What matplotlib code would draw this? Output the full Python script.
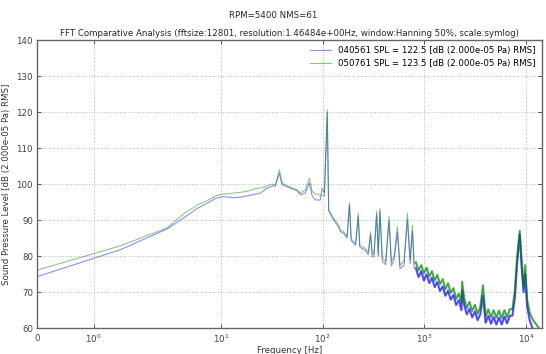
"""
Comparativa FFT de dos mediciones de nivel de presion sonora (RPM=5400).

Dibuja los espectros de las mediciones 040561 y 050761 sobre un eje de
frecuencia en escala symlog y guarda la figura en out.png.
"""

import numpy as np
import matplotlib
matplotlib.use("Agg")
import matplotlib.pyplot as plt
from matplotlib.ticker import NullLocator


# ---------------------------------------------------------------------------
# Datos
# ---------------------------------------------------------------------------

freq_hz = [
    0, 1.46, 2.93, 4.39, 5.86, 7.32, 8.79, 10.25, 11.5, 13.3, 15.5, 18.0,
    21.0, 24.4, 28.4, 31.8, 34.2, 37.5, 39.9, 44.6, 50.0, 55.9, 60.4, 67.6,
    74.1, 78.7, 84.6, 95.0, 98.6, 104.0, 111.0, 114.7,
    128.5, 144, 149.5, 161, 174, 183.6, 191, 211, 224, 232, 265, 281, 296.5,
    308, 320, 340, 353, 366, 387, 417, 450, 475, 505, 544, 577, 632, 683,
    726, 765, 795,
    827, 879, 934, 992, 1055, 1121, 1191, 1266, 1345, 1429, 1519, 1614,
    1715, 1823, 1937, 2058, 2187, 2325, 2360, 2470, 2625, 2790, 2965, 3150,
    3348, 3558, 3781, 4018, 4270, 4538, 4823, 5125, 5445, 5786, 6150, 6535,
    6945, 7380, 7800, 8200, 8700, 9170, 9500, 9840, 10300, 10950, 11800,
    13300, 14300,
]

spl_040561 = [
    74.3, 81.7, 87.5, 90.8, 93.3, 94.7, 96.0, 96.5, 96.4, 96.2, 96.4, 96.7,
    97.1, 97.5, 98.9, 99.4, 99.6, 103.0, 99.8, 99.3, 98.7, 98.2, 97.0, 97.5,
    100.3, 96.8, 95.6, 95.6, 98.9, 97.5, 119.8, 92.5,
    90.0, 88.0, 86.8, 86.3, 85.0, 94.2, 84.3, 83.0, 91.0, 82.5, 81.5, 80.4,
    85.8, 79.8, 80.0, 91.5, 80.0, 92.5, 78.5, 77.6, 89.8, 77.3, 79.0, 86.5,
    76.5, 77.5, 90.0, 77.8, 87.0, 76.8,
    76.6, 74.2, 75.8, 73.2, 74.9, 72.5, 74.0, 71.4, 72.8, 70.3, 71.6, 69.0,
    70.4, 67.9, 69.2, 66.4, 67.8, 65.0, 70.5, 66.5, 63.8, 65.4, 63.0, 64.6,
    62.2, 63.8, 69.0, 61.5, 63.4, 61.2, 63.1, 61.0, 63.0, 61.0, 63.2, 61.3,
    63.4, 63.5, 68.5, 78.0, 86.0, 75.5, 70.0, 75.0, 66.0, 62.0, 59.5,
    57.5, 56.5,
]

spl_050761 = [
    76.1, 82.8, 87.8, 92.0, 94.2, 95.4, 96.7, 97.2, 97.3, 97.5, 97.7, 98.0,
    98.6, 98.9, 99.5, 100.0, 99.5, 104.0, 100.3, 99.5, 98.9, 98.4, 97.5, 98.4,
    101.7, 98.0, 97.3, 97.0, 97.0, 96.6, 120.6, 92.8,
    90.5, 88.6, 87.2, 86.8, 85.5, 94.8, 84.8, 83.5, 91.9, 83.0, 82.1, 81.0,
    86.8, 80.5, 80.7, 92.5, 80.5, 93.2, 79.5, 78.5, 91.1, 78.5, 80.0, 88.3,
    77.5, 78.5, 91.9, 79.0, 88.6, 78.0,
    78.3, 76.0, 77.5, 75.2, 76.8, 74.3, 75.8, 73.2, 74.8, 72.2, 73.6, 70.8,
    72.5, 69.8, 71.1, 68.1, 69.6, 67.0, 72.9, 68.4, 65.6, 67.3, 64.8, 66.5,
    64.0, 65.8, 71.9, 63.3, 65.2, 63.0, 65.0, 62.9, 64.9, 62.8, 65.0, 63.0,
    65.3, 65.2, 70.5, 79.5, 87.0, 77.0, 71.5, 77.5, 67.8, 64.1, 62.2,
    60.2, 59.0,
]

etiquetas = [
    "040561 SPL = 122.5 [dB (2.000e-05 Pa) RMS]",
    "050761 SPL = 123.5 [dB (2.000e-05 Pa) RMS]",
]
yticks = [60, 70, 80, 90, 100, 110, 120, 130, 140]

SUPTITULO = "RPM=5400 NMS=61"
TITULO = ("FFT Comparative Analysis (fftsize:12801, resolution:1.46484e+00Hz, "
          "window:Hanning 50%, scale:symlog)")

# a partir de aqui el espectro es muy denso (banda de ruido)
F_BANDA = 800


# ---------------------------------------------------------------------------
# Figura
# ---------------------------------------------------------------------------

def main():
    plt.rcParams["font.family"] = "DejaVu Sans"
    plt.rcParams["font.size"] = 6.2
    plt.rcParams["xtick.direction"] = "in"
    plt.rcParams["ytick.direction"] = "in"
    plt.rcParams["xtick.top"] = True
    plt.rcParams["ytick.right"] = True

    fig = plt.figure(figsize=(5.46, 3.54), dpi=100)
    ax = fig.add_axes([0.068, 0.073, 0.924, 0.814])

    f = np.asarray(freq_hz, dtype=float)
    b = np.asarray(spl_040561, dtype=float)
    g = np.asarray(spl_050761, dtype=float)

    ax.plot(f, b, color="blue", lw=0.8, alpha=0.45, label=etiquetas[0])
    ax.plot(f, g, color="green", lw=0.8, alpha=0.45, label=etiquetas[1])

    # la banda densa se ve mas gruesa y saturada en el original
    m = f >= F_BANDA
    ax.plot(f[m], b[m], color="blue", lw=1.6, alpha=0.55)
    ax.plot(f[m], g[m], color="green", lw=1.6, alpha=0.55)

    ax.set_xscale("symlog")
    ax.set_xlim(0, 14300)
    ax.set_ylim(60, 140)
    ax.set_yticks(yticks)
    ax.xaxis.set_minor_locator(NullLocator())
    ax.tick_params(length=3, width=0.6, pad=3, colors="0.25")

    ax.grid(True, color="0.72", ls=":", lw=0.7)
    for s in ax.spines.values():
        s.set_color("0.4")
        s.set_linewidth(1.0)

    ax.set_xlabel("Frequency [Hz]", labelpad=1, color="0.2")
    ax.set_ylabel("Sound Pressure Level [dB (2.000e-05 Pa) RMS]", labelpad=4,
                  color="0.2")
    ax.set_title(TITULO, fontsize=6.2, pad=3, color="0.15")
    fig.suptitle(SUPTITULO, y=0.97, fontsize=6.2, color="0.15")

    ax.legend(loc="upper right", frameon=False, fontsize=6.2,
              handlelength=2.5, borderaxespad=0.3, labelspacing=0.5)

    fig.savefig("out.png", dpi=100)
    plt.close(fig)


if __name__ == "__main__":
    main()
